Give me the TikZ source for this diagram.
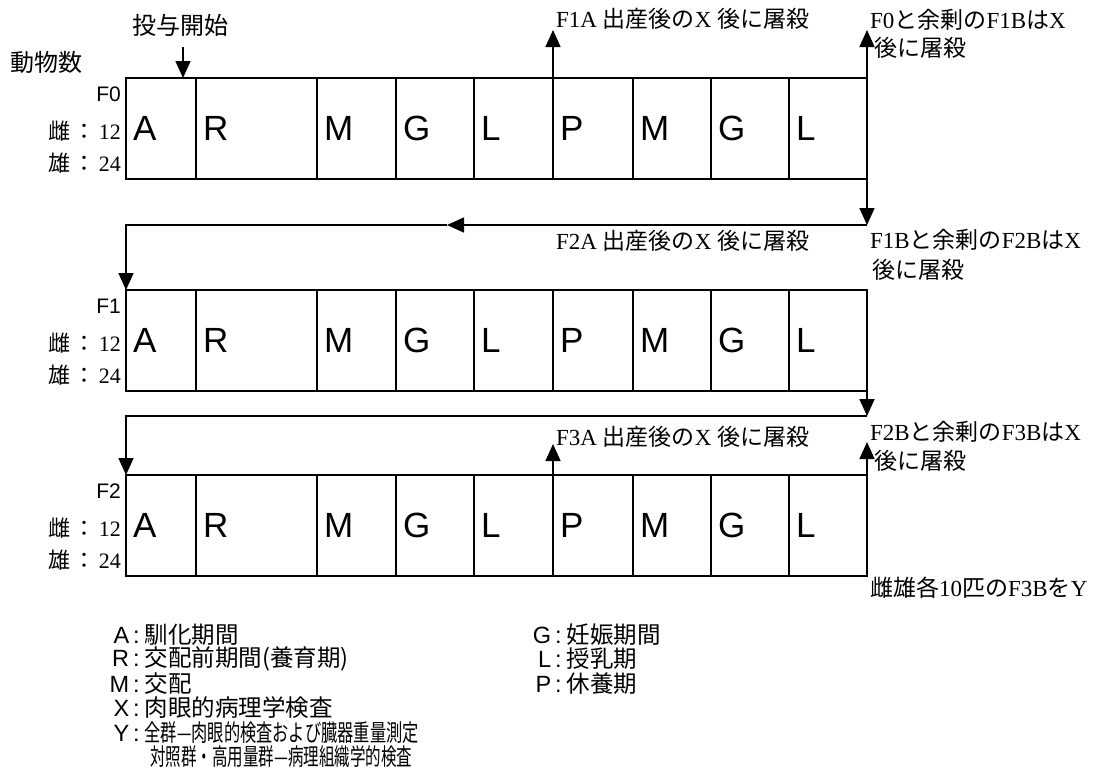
\documentclass[tikz,border=0pt]{standalone}
\usepackage{fontspec}
\usepackage{graphicx}
\setmainfont{Liberation Serif}
\setsansfont{Liberation Sans}
\newfontfamily\jp{Noto Sans CJK JP}
\usetikzlibrary{arrows.meta}
\newcommand\legitem[2]{\makebox[20pt][r]{\sffamily #1}\hspace{4pt}{\sffamily :}\hspace{5pt}{\jp #2}}
\begin{document}
\begin{tikzpicture}[x=1pt,y=-1pt,
  cell/.style={draw, line width=1.6pt, minimum height=101pt, inner xsep=7pt, inner ysep=0pt, outer sep=0pt, anchor=north west, align=left, font=\sffamily\fontsize{35}{35}\selectfont},
  arr/.style={line width=1.6pt, -{Triangle[width=15pt,length=17pt]}},
  conn/.style={line width=1.6pt},
  note/.style={font=\fontsize{23}{28}\selectfont, inner sep=0pt, anchor=west},
  side/.style={inner sep=0pt, anchor=east},
  leg/.style={font=\fontsize{23.5}{24}\selectfont, inner sep=0pt, anchor=west}]
\fill[white] (0,0) rectangle (1108,777);
\useasboundingbox (0,0) rectangle (1108,777);

% generation rows
\foreach \g/\top in {0/78, 1/290, 2/475}{
  \foreach \x/\w/\l/\n in {126/70/A/1, 196/121/R/2, 317/79/M/3, 396/78/G/4, 474/79/L/5, 553/80/P/6, 633/78/M/7, 711/78/G/8, 789/78/L/9}{
    \pgfmathsetmacro\tw{\w-14}
    \node[cell, text width=\tw pt] (f\g c\n) at (\x,\top) {\l};
  }
  \node[side, font=\sffamily\fontsize{21}{21}\selectfont] (gen\g) at (121,\top+16) {F\g};
  \node[side, font=\fontsize{22}{22}\selectfont] (fem\g) at (121,\top+53) {{\jp 雌\hspace{3pt}：\hspace{3pt}}12};
  \node[side, font=\fontsize{22}{22}\selectfont] (mal\g) at (121,\top+85) {{\jp 雄\hspace{3pt}：\hspace{3pt}}24};
}

\node[note, font=\jp\fontsize{24}{24}\selectfont] (animals) at (10,62) {動物数};
\node[note, font=\jp\fontsize{24}{24}\selectfont] (start) at (132,25) {投与開始};
\coordinate (startarr) at (183,47);
\draw[arr] (startarr) -- (startarr |- f0c1.north);

% F0 level
\node[note] (t1a) at (556,19) {F1A {\jp 出産後の}X {\jp 後に屠殺}};
\node[note] (t0b) at (870,20) {F0{\jp と余剰の}F1B{\jp は}X};
\node[note] (t0b2) at (874,48) {\jp 後に屠殺};
\draw[arr] (f0c6.north west) -- ++(0,-48);
\draw[arr] (f0c9.north east) -- ++(0,-48);

% F0 -> F1
\coordinate (k1r) at (867,225);
\coordinate (k1m) at (447,225);
\coordinate (k1l) at (126,225);
\draw[arr] (f0c9.south east) -- (k1r);
\draw[arr] (k1r) -- (k1m);
\draw[arr] (k1m) -- (k1l) -- (f1c1.north west);

% F1 level
\node[note] (t2a) at (556,241) {F2A {\jp 出産後の}X {\jp 後に屠殺}};
\node[note] (t1b) at (870,240) {F1B{\jp と余剰の}F2B{\jp は}X};
\node[note] (t1b2) at (872,270) {\jp 後に屠殺};

% F1 -> F2
\coordinate (k2r) at (867,416);
\coordinate (k2l) at (126,416);
\draw[arr] (f1c9.south east) -- (k2r);
\draw[arr] (k2r) -- (k2l) -- (f2c1.north west);

% F2 level
\node[note] (t3a) at (556,437) {F3A {\jp 出産後の}X {\jp 後に屠殺}};
\node[note] (t2b) at (870,432) {F2B{\jp と余剰の}F3B{\jp は}X};
\node[note] (t2b2) at (874,461) {\jp 後に屠殺};
\draw[arr] (f2c6.north west) -- ++(0,-31);
\draw[arr] (f2c9.north east) -- ++(0,-33);
\node[note] (t3b) at (870,588) {{\jp 雌雄各}10{\jp 匹の}F3B{\jp を}Y};

% legend
\node[leg] (la) at (109,635) {\legitem{A}{馴化期間}};
\node[leg] (lr) at (109,659) {\legitem{R}{交配前期間(養育期)}};
\node[leg] (lm) at (109,684) {\legitem{M}{交配}};
\node[leg] (lx) at (109,708) {\legitem{X}{肉眼的病理学検査}};
\node[leg] (ly) at (109,733) {\legitem{Y}{\scalebox{0.69}[1]{全群—肉眼的検査および臓器重量測定}}};
\node[leg, font=\jp\fontsize{23.5}{24}\selectfont] (ly2) at (150,757) {\scalebox{0.66}[1]{対照群・高用量群—病理組織学的検査}};
\node[leg] (lg) at (531,635) {\legitem{G}{妊娠期間}};
\node[leg] (ll) at (531,659) {\legitem{L}{授乳期}};
\node[leg] (lp) at (531,684) {\legitem{P}{休養期}};
\end{tikzpicture}
\end{document}
